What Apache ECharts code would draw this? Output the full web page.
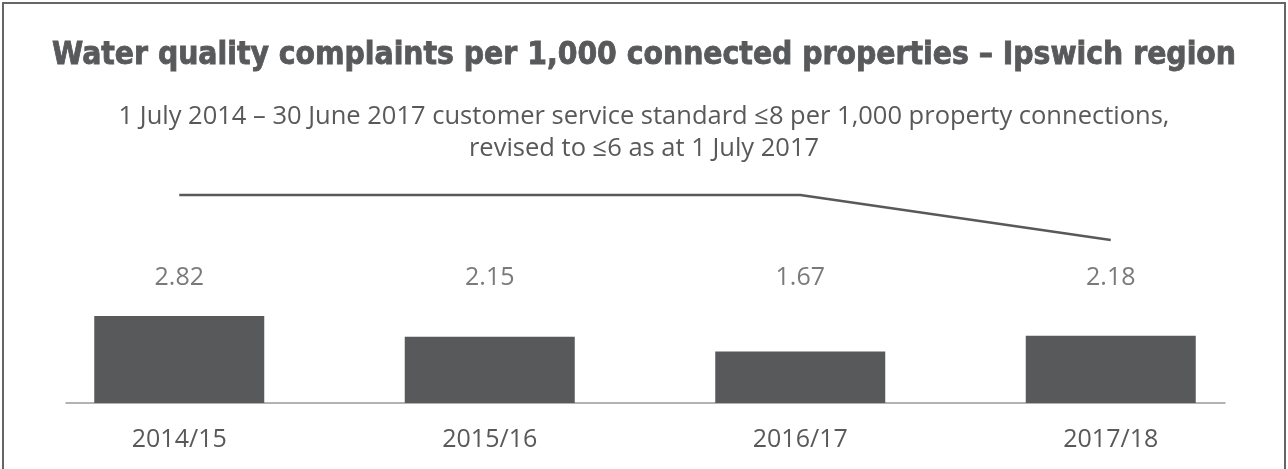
<!DOCTYPE html>
<html>
<head>
<meta charset="utf-8">
<script src="https://cdn.jsdelivr.net/npm/echarts@6/dist/echarts.min.js"></script>
<style>
  html, body { margin: 0; padding: 0; background: #fff; }
  #complaintsChart { width: 1288px; height: 469px; }
</style>
</head>
<body>
<div id="complaintsChart"></div>
<script>
// data
const years = ['2014/15', '2015/16', '2016/17', '2017/18']
const complaints = [2.82, 2.15, 1.67, 2.18]
const serviceStandard = [8, 8, 8, 6]

const titleText = 'Water quality complaints per 1,000 connected properties – Ipswich region'
const subLine1 = '1 July 2014 – 30 June 2017 customer service standard ≤8 per 1,000 property connections,'
const subLine2 = 'revised to ≤6 as at 1 July 2017'

const grey = '#58595b'
const labelLevel = 4.07 // where the value labels sit on the bar axis

const chart = echarts.init(document.getElementById('complaintsChart'))
const subStyle = {
  fontFamily: 'Open Sans',
  fontWeight: 'normal',
  fontSize: 25.5,
  color: grey
}
const option = {
  animation: false,
  backgroundColor: '#fff',
  textStyle: { fontFamily: 'Open Sans', color: grey },
  graphic: [
    {
      type: 'rect',
      shape: { x: 3, y: 3, width: 1282, height: 480 },
      style: { fill: 'none', stroke: '#666', lineWidth: 2 },
      silent: true
    }
  ],
  title: [
    {
      text: titleText,
      left: 'center',
      top: 35,
      textStyle: {
        fontFamily: 'DejaVu Sans Condensed',
        fontWeight: 'bold',
        fontSize: 31.5,
        color: grey,
        textBorderColor: grey,
        textBorderWidth: 0.8
      }
    },
    { text: subLine1, left: 'center', top: 99, textStyle: subStyle },
    { text: subLine2, left: 'center', top: 131, textStyle: subStyle }
  ],
  grid: [
    { left: 24, right: 22, top: 150, bottom: 66 },
    { left: 66, right: 63, top: 150, bottom: 66 }
  ],
  xAxis: [
    {
      type: 'category',
      data: years,
      gridIndex: 0,
      axisLine: { show: false },
      axisTick: { show: false },
      axisLabel: { color: grey, fontSize: 25, margin: 24 }
    },
    {
      type: 'category',
      data: years,
      gridIndex: 1,
      axisLine: { lineStyle: { color: '#999', width: 1.5 } },
      axisTick: { show: false },
      axisLabel: { show: false }
    }
  ],
  yAxis: [
    { type: 'value', min: 0, max: 8.2, gridIndex: 0, show: false, splitLine: { show: false } },
    { type: 'value', min: -1.25, max: 10, gridIndex: 0, show: false, splitLine: { show: false } },
    { type: 'value', min: 0, max: 1, gridIndex: 1, show: false, splitLine: { show: false } }
  ],
  series: [
    {
      name: 'complaints',
      type: 'bar',
      xAxisIndex: 0,
      yAxisIndex: 0,
      data: complaints,
      barWidth: 170,
      itemStyle: { color: grey }
    },
    {
      name: 'labels',
      type: 'scatter',
      xAxisIndex: 0,
      yAxisIndex: 0,
      symbolSize: 0,
      silent: true,
      data: complaints.map((v, i) => [years[i], labelLevel]),
      label: {
        show: true,
        position: 'inside',
        fontSize: 25,
        color: grey,
        formatter: p => complaints[p.dataIndex].toFixed(2)
      }
    },
    {
      name: 'standard',
      type: 'line',
      xAxisIndex: 0,
      yAxisIndex: 1,
      data: serviceStandard,
      symbol: 'none',
      lineStyle: { color: grey, width: 2.5 }
    },
    {
      name: 'baseline',
      type: 'line',
      xAxisIndex: 1,
      yAxisIndex: 2,
      data: [],
      silent: true
    }
  ]
}

option && chart.setOption(option)
</script>
</body>
</html>
